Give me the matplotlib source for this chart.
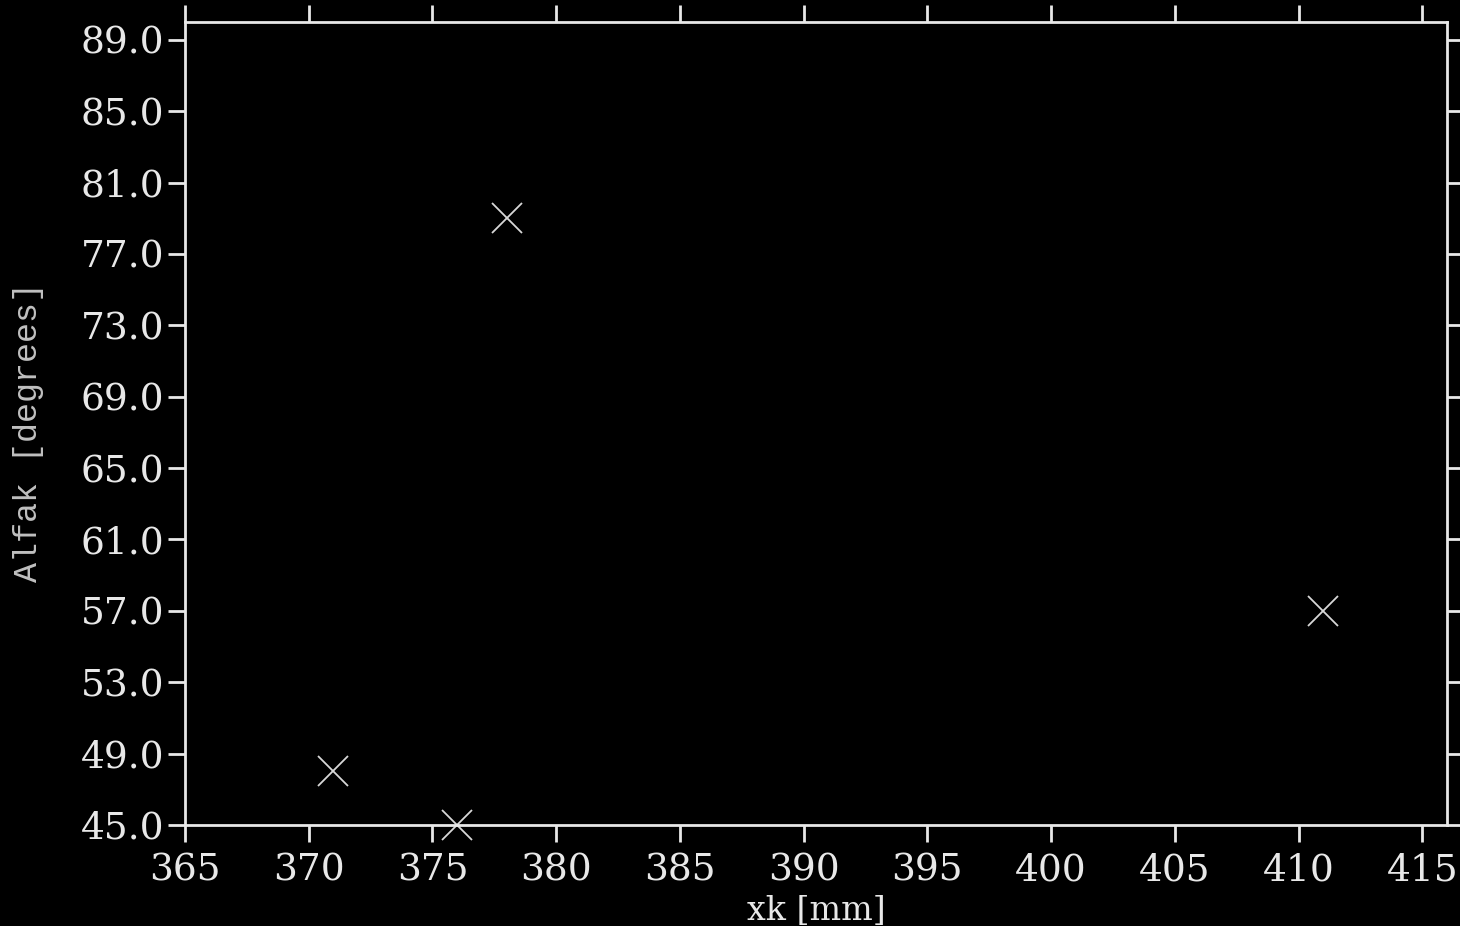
import numpy as np
import matplotlib.pyplot as plt

# measured points
xk = [371, 376, 378, 411]
alfak = [48, 45, 79, 57]

x_ticks = [365, 370, 375, 380, 385, 390, 395, 400, 405, 410, 415]
y_ticks = [45, 49, 53, 57, 61, 65, 69, 73, 77, 81, 85, 89]

fg = '#e8e8e8'

fig = plt.figure(figsize=(14.6, 9.26), dpi=100, facecolor='black')
ax = fig.add_axes([185/1460, 101/926, (1447-185)/1460, (825-22)/926])
ax.set_facecolor('black')

ax.plot(xk, alfak, linestyle='none', marker='x', markersize=22,
        markeredgewidth=1.3, color='#d8d8d8', clip_on=False)

ax.set_xlim(365, 416)
ax.set_ylim(45, 90)
ax.set_xticks(x_ticks)
ax.set_yticks(y_ticks)
ax.set_xticklabels([str(v) for v in x_ticks], family='DejaVu Serif', fontsize=27)
ax.set_yticklabels(['%.1f' % v for v in y_ticks], family='DejaVu Serif', fontsize=27)

for s in ax.spines.values():
    s.set_color(fg)
    s.set_linewidth(2)

ax.tick_params(axis='both', direction='out', colors=fg, width=2, length=12,
               top=True, right=True)
ax.tick_params(axis='x', pad=8, labeltop=False)
ax.tick_params(axis='y', pad=3, labelright=False)

ax.set_xlabel('xk [mm]', family='DejaVu Serif', fontsize=24, color=fg)
ax.xaxis.set_label_coords(0.5, -0.087)
ax.set_ylabel('Alfak [degrees]', family='Liberation Mono', fontsize=24,
              color='#c0c0c0')
ax.yaxis.set_label_coords(-0.112, 0.49)

plt.savefig('out.png', dpi=100, facecolor='black')
